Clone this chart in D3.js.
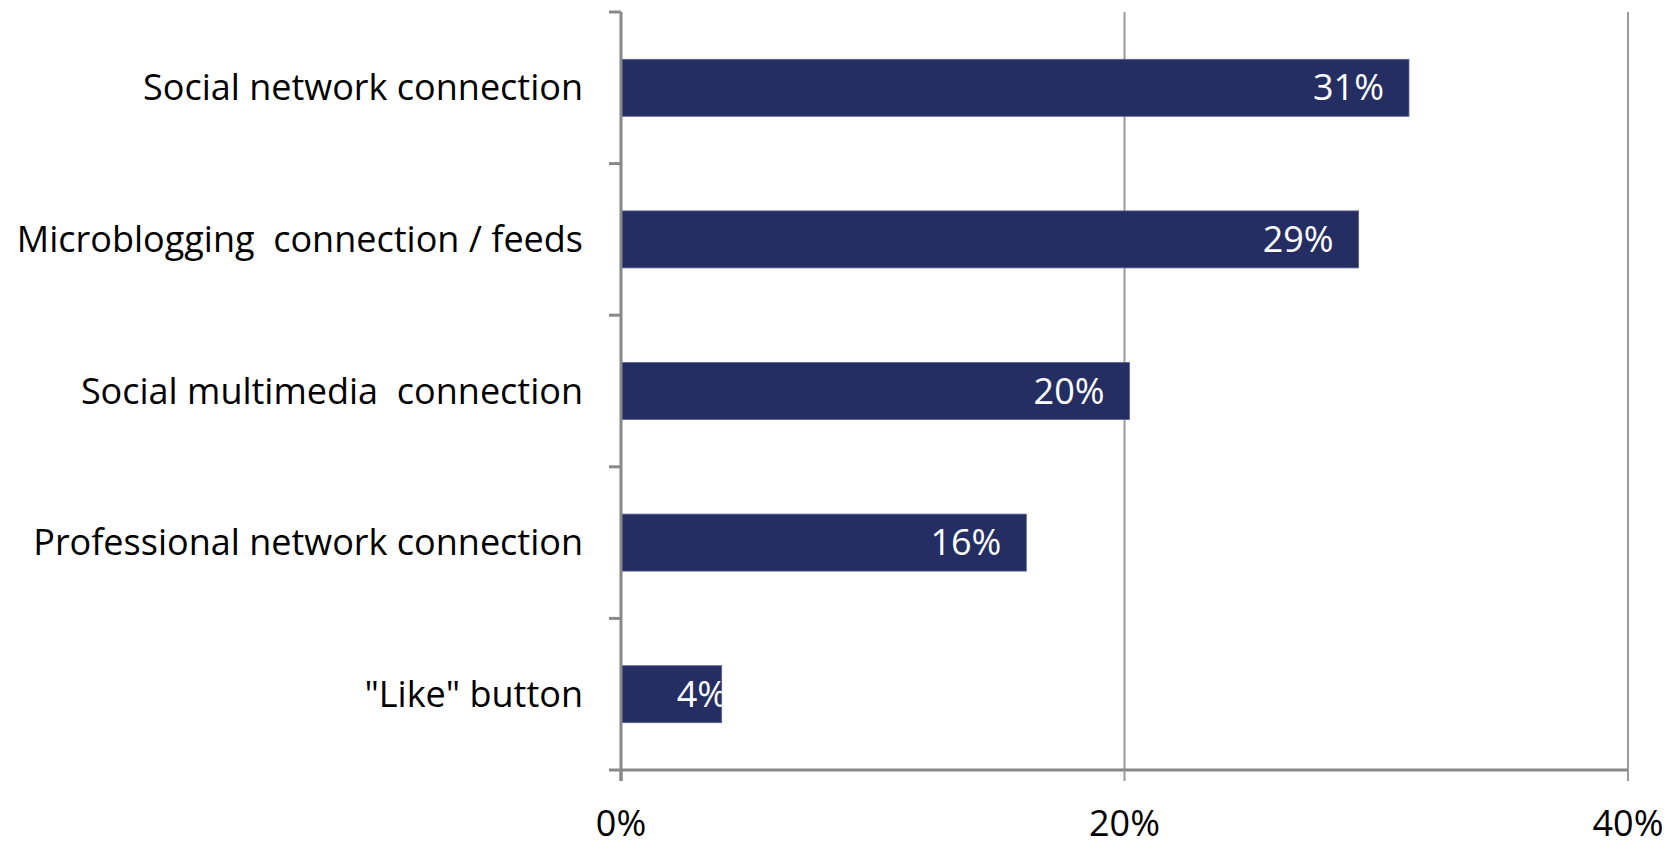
<!DOCTYPE html>
<html>
<head>
<meta charset="utf-8">
<script src="https://cdn.jsdelivr.net/npm/d3@7"></script>
<style>
  html, body { margin: 0; padding: 0; background: #fff; }
  svg { display: block; }
  text { font-family: "Open Sans", Lato, sans-serif; }
</style>
</head>
<body>
<svg id="chart" width="1669" height="846"></svg>
<script>
const categories = [
  "Social network connection",
  "Microblogging  connection / feeds",
  "Social multimedia  connection",
  "Professional network connection",
  "\"Like\" button"
];
const values = [31.3, 29.3, 20.2, 16.1, 4.0];
const valueLabels = ["31%", "29%", "20%", "16%", "4%"];
const xTicks = [0, 20, 40];
const xTickLabels = ["0%", "20%", "40%"];

const svg = d3.select("#chart");
const margin = { left: 621, right: 41, top: 12, bottom: 76 };
const W = 1669, H = 846;

const x = d3.scaleLinear().domain([0, 40]).range([margin.left, W - margin.right]);
const y = d3.scaleBand().domain(categories).range([margin.top, H - margin.bottom]).paddingInner(0.624).paddingOuter(0.312);

const axisColor = "#888888";
const gridColor = "#9a9a9a";
const barColor = "#252e62";
const fontSize = 36;

// gridlines
svg.append("g").selectAll("line").data(xTicks.filter(d => d > 0)).join("line")
  .attr("x1", d => x(d)).attr("x2", d => x(d))
  .attr("y1", margin.top).attr("y2", H - margin.bottom)
  .attr("stroke", gridColor).attr("stroke-width", 2);

// bars
svg.append("g").selectAll("rect").data(values).join("rect")
  .attr("x", x(0))
  .attr("y", (d, i) => y(categories[i]))
  .attr("width", d => x(d) - x(0))
  .attr("height", y.bandwidth())
  .attr("fill", barColor)
  .attr("stroke", "#5a6296").attr("stroke-width", 0.8);

// value labels (clipped to bars)
const defs = svg.append("defs");
values.forEach((d, i) => {
  defs.append("clipPath").attr("id", "clip" + i).append("rect")
    .attr("x", x(0)).attr("y", y(categories[i]))
    .attr("width", x(d) - x(0)).attr("height", y.bandwidth());
});
svg.append("g").selectAll("text").data(values).join("text")
  .attr("clip-path", (d, i) => `url(#clip${i})`)
  .attr("x", d => Math.max(x(d) - 25, x(0) + 106))
  .attr("y", (d, i) => y(categories[i]) + y.bandwidth() / 2)
  .attr("dy", "0.35em")
  .attr("text-anchor", "end")
  .attr("fill", "#ffffff")
  .attr("font-size", fontSize)
  .text((d, i) => valueLabels[i]);

// y axis
const yBoundaries = d3.range(categories.length + 1).map(i => margin.top + i * (H - margin.bottom - margin.top) / categories.length);
const yAxisG = svg.append("g");
yAxisG.append("line")
  .attr("x1", x(0)).attr("x2", x(0))
  .attr("y1", margin.top).attr("y2", H - margin.bottom + 11)
  .attr("stroke", axisColor).attr("stroke-width", 3);
yAxisG.selectAll("line.tick").data(yBoundaries).join("line").attr("class", "tick")
  .attr("x1", x(0) - 12).attr("x2", x(0))
  .attr("y1", d => d).attr("y2", d => d)
  .attr("stroke", axisColor).attr("stroke-width", 3);
yAxisG.selectAll("text").data(categories).join("text")
  .attr("x", x(0) - 38)
  .attr("y", d => y(d) + y.bandwidth() / 2)
  .attr("dy", "0.35em")
  .attr("text-anchor", "end")
  .attr("fill", "#000")
  .attr("font-size", fontSize)
  .style("white-space", "pre")
  .text(d => d);

// x axis
const xAxisG = svg.append("g");
xAxisG.append("line")
  .attr("x1", x(0)).attr("x2", x(40))
  .attr("y1", H - margin.bottom).attr("y2", H - margin.bottom)
  .attr("stroke", axisColor).attr("stroke-width", 3);
xAxisG.selectAll("line.tick").data(xTicks).join("line").attr("class", "tick")
  .attr("x1", d => x(d)).attr("x2", d => x(d))
  .attr("y1", H - margin.bottom).attr("y2", H - margin.bottom + 11)
  .attr("stroke", d => d === 0 ? axisColor : gridColor).attr("stroke-width", d => d === 0 ? 3 : 2);
xAxisG.selectAll("text").data(xTicks).join("text")
  .attr("x", d => x(d))
  .attr("y", 836)
  .attr("text-anchor", "middle")
  .attr("fill", "#000")
  .attr("font-size", fontSize)
  .text((d, i) => xTickLabels[i]);
</script>
</body>
</html>
